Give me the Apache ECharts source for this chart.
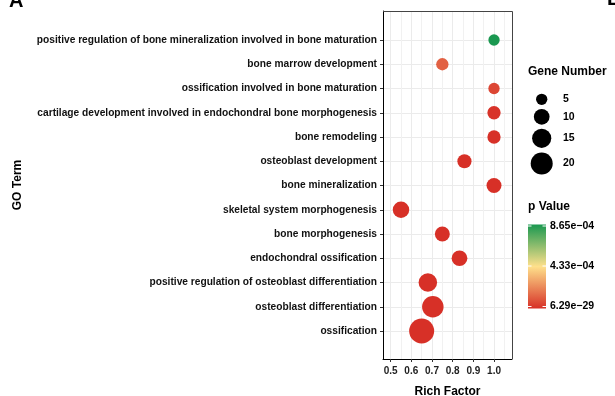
<!DOCTYPE html>
<html>
<head>
<meta charset="utf-8">
<script src="https://cdn.jsdelivr.net/npm/echarts@6/dist/echarts.min.js"></script>
<style>
  html, body { margin: 0; padding: 0; background: #fff; }
  #chart { width: 615px; height: 396px; }
</style>
</head>
<body>
<div id="chart"></div>
<script>
// GO enrichment terms, listed top to bottom
const terms = [
  'positive regulation of bone mineralization involved in bone maturation',
  'bone marrow development',
  'ossification involved in bone maturation',
  'cartilage development involved in endochondral bone morphogenesis',
  'bone remodeling',
  'osteoblast development',
  'bone mineralization',
  'skeletal system morphogenesis',
  'bone morphogenesis',
  'endochondral ossification',
  'positive regulation of osteoblast differentiation',
  'osteoblast differentiation',
  'ossification'
];
const richFactor = [1.0, 0.75, 1.0, 1.0, 1.0, 0.857, 1.0, 0.55, 0.75, 0.833, 0.68, 0.704, 0.65];
const geneCount  = [5, 6, 5, 7, 7, 8, 9, 11, 9, 10, 14, 19, 26];
const pValue = [8.65e-04, 1.2e-04, 5.5e-05, 8.1e-06, 3.4e-06, 2.1e-07, 5.6e-09,
                1.3e-10, 4.7e-09, 2.2e-10, 3.5e-15, 1.8e-21, 6.29e-29];

// legend breaks
const sizeBreaks = [5, 10, 15, 20];
const pMin = 6.29e-29;
const pMax = 8.65e-04;
const pBreaks = [pMax, (pMax + pMin) / 2, pMin];
// minor vertical grid values on the Rich Factor axis
const minorX = [0.55, 0.65, 0.75, 0.85, 0.95, 1.05];

const gradientColors = ['#D73027', '#FEE08B', '#1A9850'];
const bold = 'bold';
const fontFam = '"Liberation Sans", Arial, Helvetica, sans-serif';

function dotSize(n) { return 0.6 + 4.79 * Math.sqrt(n); }
// scientific notation with two decimals and a two-digit exponent
function fmtP(v) {
  let e = Math.floor(Math.log10(v));
  let m = Math.round(v / Math.pow(10, e) * 100 + 1e-6) / 100;
  if (m >= 10) { m /= 10; e += 1; }
  const sign = e < 0 ? '\u2212' : '+';
  let d = String(Math.abs(e));
  if (d.length < 2) d = '0' + d;
  return m.toFixed(2) + 'e' + sign + d;
}

const chart = echarts.init(document.getElementById('chart'), null, { renderer: 'canvas' });

const plotL = 383, plotR = 512, plotT = 11, plotB = 359;
const rowT = 40, rowB = 331;
const xMin = 0.463, xMax = 1.087;

const graphics = [];
// panel tags
graphics.push({ type: 'text', left: 9, top: -9, style: { text: 'A', font: 'bold 20px ' + fontFam, fill: '#000' } });
graphics.push({ type: 'text', left: 607, top: -11, style: { text: 'B', font: 'bold 20px ' + fontFam, fill: '#000' } });
// top and right edges of the panel frame
graphics.push({ type: 'polyline', z: 50, silent: true,
  shape: { points: [[plotL, plotT + 0.5], [plotR + 0.5, plotT + 0.5], [plotR + 0.5, plotB]] },
  style: { stroke: '#444', lineWidth: 1, fill: null } });
// y axis title
graphics.push({ type: 'text', x: 18, y: 185, rotation: Math.PI / 2,
  style: { text: 'GO Term', font: 'bold 12px ' + fontFam, fill: '#000', align: 'center', verticalAlign: 'middle' } });
// size legend
graphics.push({ type: 'text', x: 528, y: 72, style: { text: 'Gene Number', font: 'bold 12px ' + fontFam, fill: '#000', verticalAlign: 'middle' } });
const sizeRowY = [99.3, 116.8, 138.3, 163.5];
sizeBreaks.forEach((n, i) => {
  graphics.push({ type: 'circle', shape: { cx: 541.7, cy: sizeRowY[i], r: dotSize(n) / 2 }, style: { fill: '#000' } });
  graphics.push({ type: 'text', x: 563, y: sizeRowY[i], style: { text: String(n), font: 'bold 10.5px ' + fontFam, fill: '#000', verticalAlign: 'middle' } });
});
// colour legend
graphics.push({ type: 'text', x: 528, y: 207, style: { text: 'p Value', font: 'bold 12px ' + fontFam, fill: '#000', verticalAlign: 'middle' } });
const barX = 528, barY = 224.5, barW = 18, barH = 84;
graphics.push({ type: 'rect', shape: { x: barX, y: barY, width: barW, height: barH },
  style: { fill: new echarts.graphic.LinearGradient(0, 0, 0, 1, [
    { offset: 0, color: gradientColors[2] },
    { offset: 0.5, color: gradientColors[1] },
    { offset: 1, color: gradientColors[0] }
  ]) } });
const tickY = [226, 266, 306.5];
pBreaks.forEach((p, i) => {
  graphics.push({ type: 'line', shape: { x1: barX, y1: tickY[i], x2: barX + 3.5, y2: tickY[i] }, style: { stroke: '#fff', lineWidth: 1 } });
  graphics.push({ type: 'line', shape: { x1: barX + barW - 3.5, y1: tickY[i], x2: barX + barW, y2: tickY[i] }, style: { stroke: '#fff', lineWidth: 1 } });
  graphics.push({ type: 'text', x: 550, y: tickY[i], style: { text: fmtP(p), font: 'bold 10.5px ' + fontFam, fill: '#000', verticalAlign: 'middle' } });
});

const option = {
  backgroundColor: '#fff',
  animation: false,
  textStyle: { fontFamily: fontFam },
  grid: [
    { left: plotL, top: plotT, width: plotR - plotL, height: plotB - plotT, show: false,
      containLabel: false, outerBoundsMode: 'none' },
    { left: plotL, top: rowT, width: plotR - plotL, height: rowB - rowT, show: false,
      containLabel: false, outerBoundsMode: 'none' }
  ],
  xAxis: [
    {
      type: 'value', gridIndex: 0, min: xMin, max: xMax, splitNumber: 6, position: 'bottom',
      name: 'Rich Factor', nameLocation: 'middle', nameGap: 27,
      nameTextStyle: { fontWeight: bold, fontSize: 12, color: '#000', fontFamily: fontFam },
      axisLine: { show: true, onZero: false, lineStyle: { color: '#000', width: 1 } },
      axisTick: { show: true, inside: false, length: 3, lineStyle: { color: '#333' } },
      axisLabel: { show: true, margin: 7, fontSize: 10, fontWeight: bold, color: '#222',
        showMinLabel: false, showMaxLabel: false, fontFamily: fontFam,
        formatter: v => v.toFixed(1) },
      splitLine: { show: true, lineStyle: { color: '#EBEBEB', width: 1 } }
    },
    {
      type: 'value', gridIndex: 1, min: xMin, max: xMax, show: false,
      splitLine: { show: false }
    }
  ],
  yAxis: [
    {
      type: 'value', gridIndex: 0, min: 0, max: 1, position: 'left',
      axisLine: { show: true, onZero: false, lineStyle: { color: '#000', width: 1 } },
      axisTick: { show: false }, axisLabel: { show: false }, splitLine: { show: false }
    },
    {
      type: 'category', gridIndex: 1, data: terms, inverse: true, boundaryGap: false,
      axisLine: { show: false },
      axisTick: { show: true, length: 3, interval: 0, lineStyle: { color: '#333' } },
      axisLabel: { show: true, interval: 0, margin: 6, fontSize: 10.2, fontWeight: bold, color: '#111', fontFamily: fontFam },
      splitLine: { show: true, interval: 0, lineStyle: { color: '#EBEBEB', width: 1 } }
    }
  ],
  visualMap: {
    type: 'continuous', show: false, seriesIndex: 1, dimension: 2,
    min: pMin, max: pMax, inRange: { color: gradientColors }
  },
  series: [
    {
      // minor grid lines across the whole panel
      type: 'scatter', xAxisIndex: 0, yAxisIndex: 0, data: [], silent: true,
      markLine: {
        silent: true, symbol: 'none', z: 1, animation: false,
        label: { show: false },
        lineStyle: { color: '#F1F1F1', width: 1, type: 'solid' },
        emphasis: { disabled: true },
        data: minorX.map(v => ({ xAxis: v }))
      }
    },
    {
      type: 'scatter', xAxisIndex: 1, yAxisIndex: 1, z: 10, clip: false,
      data: terms.map((t, i) => [richFactor[i], t, pValue[i], geneCount[i]]),
      symbol: 'circle',
      symbolSize: d => dotSize(d[3]),
      itemStyle: { opacity: 1 }
    }
  ],
  graphic: graphics
};

chart.setOption(option);
</script>
</body>
</html>
